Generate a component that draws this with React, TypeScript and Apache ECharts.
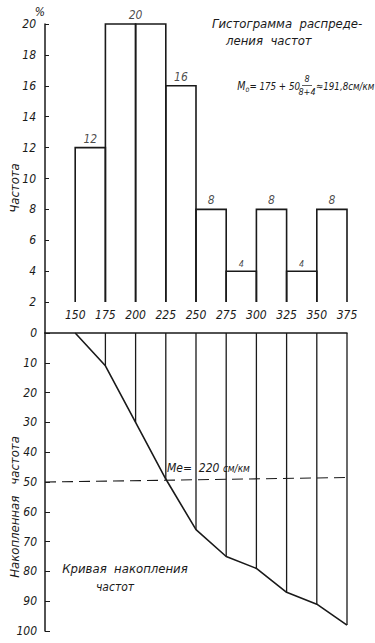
import React, { useEffect, useRef } from "react";
import * as echarts from "echarts";

// ---- data ----
const binEdges = [150, 175, 200, 225, 250, 275, 300, 325, 350, 375];
const frequencies = [12, 20, 20, 16, 8, 4, 8, 4, 8];
const cumulativeValues = [0, 11, 30, 49, 66, 75, 79, 87, 91, 98];
const medianLine = [
  [125, 50],
  [375, 48.5],
];
const histogramBase = 2;
const xRange = [125, 375];

const FONT = "'Liberation Sans Narrow', 'DejaVu Sans Condensed', 'Liberation Sans', sans-serif";
const INK = "#1a1a1a";

const histData = frequencies.map((f, i) => [binEdges[i], binEdges[i + 1], f]);

// label once per run of equal bars, centred on that run
const barLabels: any[] = [];
{
  let i = 0;
  while (i < frequencies.length) {
    let j = i;
    while (j + 1 < frequencies.length && frequencies[j + 1] === frequencies[i]) j++;
    barLabels.push({
      value: [(binEdges[i] + binEdges[j + 1]) / 2, frequencies[i]],
      label: { fontSize: frequencies[i] <= 4 ? 9 : 12 },
    });
    i = j + 1;
  }
}

const cumulativeData = binEdges.map((x, i) => [x, cumulativeValues[i]]);
const dropData = binEdges.slice(1).map((x, i) => [x, cumulativeValues[i + 1]]);

const labelStyle = {
  color: INK,
  fontStyle: "italic" as const,
  fontFamily: FONT,
  fontSize: 12,
};

export default function App() {
  const ref = useRef<HTMLDivElement>(null);

  useEffect(() => {
    document.body.style.margin = "0";
    const chart = echarts.init(ref.current!, null, { renderer: "svg" });
    const axisLine = { show: true, lineStyle: { color: INK, width: 1.5 } };
    const gText = (s: any) => ({ ...labelStyle, fill: INK, textVerticalAlign: "middle", ...s });

    chart.setOption({
      animation: false,
      backgroundColor: "#ffffff",
      grid: [
        { left: 45, top: 24, width: 302, height: 309 },
        { left: 45, top: 333, width: 302, height: 298 },
      ],
      xAxis: [
        { gridIndex: 0, type: "value", min: xRange[0], max: xRange[1], show: false },
        {
          gridIndex: 1,
          type: "value",
          min: xRange[0],
          max: xRange[1],
          interval: 25,
          position: "top",
          axisLine,
          axisTick: { show: false },
          splitLine: { show: false },
          axisLabel: {
            ...labelStyle,
            margin: 12,
            formatter: (v: number) => (v === xRange[0] ? "" : String(v)),
          },
        },
      ],
      yAxis: [
        {
          gridIndex: 0,
          type: "value",
          min: 0,
          max: 20,
          interval: 2,
          axisLine,
          axisTick: { show: true, inside: true, length: 4, lineStyle: { color: INK } },
          splitLine: { show: false },
          axisLabel: {
            ...labelStyle,
            margin: 9,
            formatter: (v: number) => (v === 0 ? "" : String(v)),
          },
          name: "%",
          nameLocation: "end",
          nameGap: 6,
          nameTextStyle: { ...labelStyle, align: "right" },
        },
        {
          gridIndex: 1,
          type: "value",
          min: 0,
          max: 100,
          interval: 10,
          inverse: true,
          axisLine,
          axisTick: { show: true, inside: true, length: 5, lineStyle: { color: INK } },
          splitLine: { show: false },
          axisLabel: { ...labelStyle, margin: 8 },
        },
      ],
      series: [
        {
          type: "custom",
          xAxisIndex: 0,
          yAxisIndex: 0,
          silent: true,
          data: histData,
          renderItem: (_p: any, api: any) => {
            const x0 = api.value(0);
            const x1 = api.value(1);
            const h = api.value(2);
            return {
              type: "polyline",
              shape: {
                points: [
                  api.coord([x0, histogramBase]),
                  api.coord([x0, h]),
                  api.coord([x1, h]),
                  api.coord([x1, histogramBase]),
                ],
              },
              style: { stroke: INK, fill: "none", lineWidth: 1.6 },
            };
          },
        },
        {
          type: "scatter",
          xAxisIndex: 0,
          yAxisIndex: 0,
          silent: true,
          symbolSize: 0,
          data: barLabels,
          label: {
            show: true,
            position: "top",
            distance: 3,
            ...labelStyle,
            formatter: (p: any) => String(p.value[1]),
          },
        },
        {
          type: "custom",
          xAxisIndex: 1,
          yAxisIndex: 1,
          silent: true,
          data: dropData,
          renderItem: (_p: any, api: any) => {
            const a = api.coord([api.value(0), 0]);
            const b = api.coord([api.value(0), api.value(1)]);
            return {
              type: "line",
              shape: { x1: a[0], y1: a[1], x2: b[0], y2: b[1] },
              style: { stroke: INK, lineWidth: 1.3 },
            };
          },
        },
        {
          type: "line",
          xAxisIndex: 1,
          yAxisIndex: 1,
          silent: true,
          symbol: "none",
          data: cumulativeData,
          lineStyle: { color: INK, width: 1.6 },
        },
        {
          type: "line",
          xAxisIndex: 1,
          yAxisIndex: 1,
          silent: true,
          symbol: "none",
          data: medianLine,
          lineStyle: { color: INK, width: 1.1, type: [11, 6] },
        },
      ],
      graphic: [
        {
          type: "text",
          x: 14,
          y: 188,
          rotation: Math.PI / 2,
          style: gText({ text: "Частота", fontSize: 13, textAlign: "center" }),
        },
        {
          type: "text",
          x: 14,
          y: 507,
          rotation: Math.PI / 2,
          style: gText({ text: "Накопленная   частота", fontSize: 13, textAlign: "center" }),
        },
        {
          type: "text",
          x: 212,
          y: 23,
          style: gText({ text: "Гистограмма  распреде-", fontSize: 13 }),
        },
        {
          type: "text",
          x: 226,
          y: 40,
          style: gText({ text: "ления  частот", fontSize: 13 }),
        },
        {
          type: "text",
          x: 300,
          y: 86,
          scaleX: 0.88,
          style: {
            text: "{m|M}{s|o}{t|= 175 + 50}",
            textAlign: "right",
            textVerticalAlign: "middle",
            rich: {
              m: { ...labelStyle, fontSize: 12, fill: INK },
              s: { ...labelStyle, fontSize: 8, fill: INK, padding: [6, 0, 0, 0] },
              t: { ...labelStyle, fontSize: 11, fill: INK },
            },
          },
        },
        {
          type: "text",
          x: 307,
          y: 79,
          style: gText({ text: "8", fontSize: 9, textAlign: "center" }),
        },
        {
          type: "line",
          shape: { x1: 302, y1: 85.5, x2: 312, y2: 85.5 },
          style: { stroke: INK, lineWidth: 0.7 },
        },
        {
          type: "text",
          x: 307,
          y: 92,
          style: gText({ text: "8+4", fontSize: 9, textAlign: "center" }),
        },
        {
          type: "text",
          x: 316,
          y: 86,
          scaleX: 0.88,
          style: gText({ text: "≈191,8см/км", fontSize: 11 }),
        },
        {
          type: "text",
          x: 167,
          y: 468,
          style: {
            text: "{a|Me}{b|=  220 }{c|см/км}",
            textVerticalAlign: "middle",
            rich: {
              a: { ...labelStyle, fontSize: 12, fill: INK },
              b: { ...labelStyle, fontSize: 12, fill: INK },
              c: { ...labelStyle, fontSize: 10, fill: INK },
            },
          },
        },
        {
          type: "text",
          x: 125,
          y: 568,
          style: gText({ text: "Кривая  накопления", fontSize: 13, textAlign: "center" }),
        },
        {
          type: "text",
          x: 115,
          y: 587,
          style: gText({ text: "частот", fontSize: 12, textAlign: "center" }),
        },
      ],
    });

    return () => chart.dispose();
  }, []);

  return <div ref={ref} style={{ width: 375, height: 643, background: "#fff" }} />;
}
